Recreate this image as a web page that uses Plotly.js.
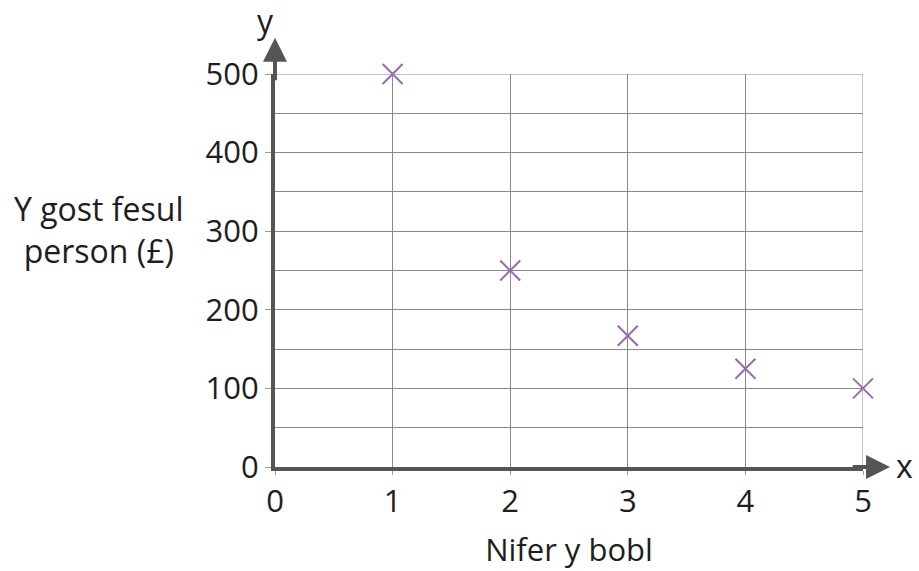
<!DOCTYPE html>
<html>
<head>
<meta charset="utf-8">
<script src="https://cdn.plot.ly/plotly-3.0.1.min.js"></script>
<style>html,body{margin:0;padding:0;background:#fff;}#chart{width:919px;height:571px;}</style>
</head>
<body>
<div id="chart"></div>
<script>
const people = [1, 2, 3, 4, 5];
const costPerPerson = [500, 250, 167, 125, 100];
const xTicks = [0, 1, 2, 3, 4, 5];
const yTicks = [0, 100, 200, 300, 400, 500];
const xTitle = 'Nifer y bobl';
const yTitle = 'Y gost fesul<br>person (£)';

const font = 'Open Sans, Noto Sans, sans-serif';
const txt = {family: font, size: 31, color: '#1e1e1e', weight: 500};
const trace = {
  x: people, y: costPerPerson, type: 'scatter', mode: 'markers',
  marker: {symbol: 'x-thin-open', size: 20, line: {color: '#9a6aae', width: 2}, color: '#9a6aae'},
  cliponaxis: false, hoverinfo: 'skip'
};
const layout = {
  width: 919, height: 571,
  margin: {l: 275, r: 56, t: 74, b: 104},
  paper_bgcolor: '#fff', plot_bgcolor: '#fff',
  showlegend: false,
  font: txt,
  xaxis: {
    range: [0, 5], tickvals: xTicks, ticktext: xTicks.map(String),
    showgrid: true, gridcolor: '#8a8a8a', gridwidth: 1,
    zeroline: false, showline: true, linecolor: '#555', linewidth: 4,
    ticks: 'outside', ticklen: 4, tickcolor: '#999', tickwidth: 1,
    tickfont: txt,
    title: {text: xTitle, font: txt, standoff: 20},
    fixedrange: true
  },
  yaxis: {
    range: [0, 500], tickvals: yTicks, ticktext: yTicks.map(String),
    showgrid: true, gridcolor: '#8a8a8a', gridwidth: 1,
    minor: {dtick: 50, showgrid: true, gridcolor: '#8a8a8a', gridwidth: 1},
    zeroline: false, showline: true, linecolor: '#555', linewidth: 4,
    ticks: 'outside', ticklen: 6, tickcolor: '#999', tickwidth: 1,
    tickfont: txt,
    fixedrange: true
  },
  shapes: [
    {type: 'line', xref: 'x', yref: 'y', x0: 0, x1: 5, y0: 500, y1: 500, line: {color: '#8a8a8a', width: 1}},
    {type: 'line', xref: 'x', yref: 'y', x0: 5, x1: 5, y0: 0, y1: 500, line: {color: '#8a8a8a', width: 1}}
  ],
  annotations: [
    {xref: 'x', yref: 'y', axref: 'x', ayref: 'y', x: 0, y: 546, ax: 0, ay: 490, text: '', showarrow: true,
     arrowhead: 2, arrowsize: 1.2, arrowwidth: 4, arrowcolor: '#555'},
    {xref: 'x', yref: 'y', axref: 'x', ayref: 'y', x: 5.23, y: 0, ax: 4.9, ay: 0, text: '', showarrow: true,
     arrowhead: 2, arrowsize: 1.2, arrowwidth: 4, arrowcolor: '#555'},
    {xref: 'paper', yref: 'paper', x: -0.017, y: 1.0, yshift: 54, xanchor: 'center', yanchor: 'middle',
     text: 'y', showarrow: false, font: {family: font, size: 32, color: '#1e1e1e', weight: 500}},
    {xref: 'paper', yref: 'paper', x: 1.071, y: 0, yshift: 2, xanchor: 'center', yanchor: 'middle',
     text: 'x', showarrow: false, font: {family: font, size: 32, color: '#1e1e1e', weight: 500}},
    {xref: 'paper', yref: 'paper', x: -0.301, y: 0.605, xanchor: 'center', yanchor: 'middle',
     text: yTitle, showarrow: false, align: 'center', font: {family: font, size: 32, color: '#1e1e1e', weight: 500}}
  ]
};
Plotly.newPlot('chart', [trace], layout, {displayModeBar: false, staticPlot: true});
</script>
</body>
</html>
